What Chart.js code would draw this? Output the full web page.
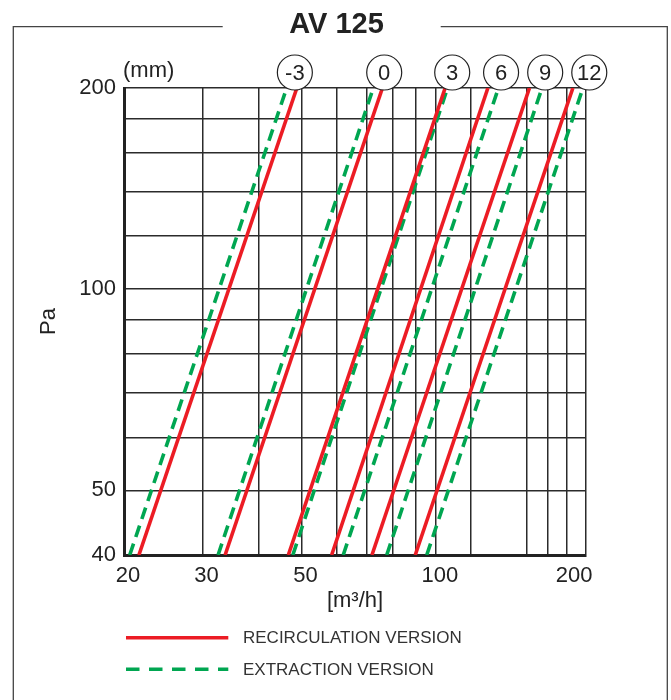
<!DOCTYPE html>
<html>
<head>
<meta charset="utf-8">
<title>AV 125</title>
<script src="https://cdn.jsdelivr.net/npm/chart.js@4.4.1/dist/chart.umd.min.js"></script>
<style>
  html, body { margin: 0; padding: 0; background: #fff; }
  #wrap { width: 671px; height: 700px; }
</style>
</head>
<body>
<div id="wrap"><canvas id="chart" width="671" height="700"></canvas></div>
<script>
// réglage de la bouche (mm)
const openings = ['-3', '0', '3', '6', '9', '12']
// pression aux deux bouts de chaque droite (Pa)
const pressureEnds = [40, 200]
// débits (m3/h) à 40 Pa et à 200 Pa
const recircAt40 = [21.6, 33.7, 46.7, 58.4, 71.9, 89.9]
const recircAt200 = [48.8, 75.9, 104.9, 130.8, 162.1, 202.8]
const extractAt40 = [20.6, 32.5, 47.8, 62.0, 77.6, 95.4]
const extractAt200 = [46.3, 72.4, 106.2, 138.1, 172.9, 213.6]
// débit où se trouve l'étiquette ronde de chaque réglage
const openingLabelAt = [48.3, 76.6, 108.8, 140, 175.8, 220.7]

// axes
const xGridValues = [20, 30, 40, 50, 60, 70, 80, 90, 100, 120, 160, 178, 196, 217]
const xTickLabels = [20, 30, 50, 100, 200]
const yGridValues = [40, 50, 60, 70, 80, 90, 100, 120, 140, 160, 180, 200]
const yTickLabels = [40, 50, 100, 200]

const chartTitle = 'AV 125'
const legendNames = ['RECIRCULATION VERSION', 'EXTRACTION VERSION']

const RED = '#ec1c24'
const GREEN = '#00a651'
const INK = '#222'
const GRID = '#2b2b2b'
const FONT = "'Liberation Sans', Arial, sans-serif"

Chart.defaults.font.family = FONT
Chart.defaults.color = INK

const datasets = []
openings.forEach((op, i) => {
  datasets.push({
    label: legendNames[0] + ' ' + op,
    data: [{ x: recircAt40[i], y: pressureEnds[0] }, { x: recircAt200[i], y: pressureEnds[1] }],
    borderColor: RED,
    borderWidth: 3.6,
    pointRadius: 0,
    showLine: true,
    order: 0
  })
  datasets.push({
    label: legendNames[1] + ' ' + op,
    data: [{ x: extractAt40[i], y: pressureEnds[0] }, { x: extractAt200[i], y: pressureEnds[1] }],
    borderColor: GREEN,
    borderWidth: 3.6,
    borderDash: [12, 7],
    pointRadius: 0,
    showLine: true,
    order: 1
  })
})

const xTickValues = [...new Set([...xGridValues, ...xTickLabels])].sort((a, b) => a - b)

// cadre, titre, étiquettes rondes et légende
const decor = {
  id: 'decor',
  beforeDraw(chart) {
    const ctx = chart.ctx
    ctx.save()
    ctx.fillStyle = '#fff'
    ctx.fillRect(0, 0, chart.width, chart.height)
    ctx.strokeStyle = '#444'
    ctx.lineWidth = 1.3
    ctx.beginPath()
    ctx.moveTo(222.7, 26.7); ctx.lineTo(13.3, 26.7); ctx.lineTo(13.3, 700)
    ctx.moveTo(440.7, 26.7); ctx.lineTo(667.3, 26.7); ctx.lineTo(667.3, 700)
    ctx.stroke()
    ctx.fillStyle = INK
    ctx.font = 'bold 29px ' + FONT
    ctx.textAlign = 'center'
    ctx.textBaseline = 'alphabetic'
    ctx.fillText(chartTitle, 336.5, 32.5)
    ctx.restore()
  },
  afterDatasetsDraw(chart) {
    const { ctx, chartArea } = chart
    const xs = chart.scales.x
    ctx.save()
    // (mm)
    ctx.fillStyle = INK
    ctx.font = '22px ' + FONT
    ctx.textAlign = 'left'
    ctx.textBaseline = 'middle'
    ctx.fillText('(mm)', chartArea.left - 1, chartArea.top - 17)
    // étiquettes rondes
    openings.forEach((op, i) => {
      const cx = xs.getPixelForValue(openingLabelAt[i])
      const cy = chartArea.top - 15.5
      ctx.beginPath()
      ctx.arc(cx, cy, 17.5, 0, Math.PI * 2)
      ctx.fillStyle = '#fff'
      ctx.fill()
      ctx.strokeStyle = INK
      ctx.lineWidth = 1.2
      ctx.stroke()
      ctx.fillStyle = INK
      ctx.textAlign = 'center'
      ctx.fillText(op, cx, cy + 1)
    })
    // légende
    const items = [
      { color: RED, dash: [], y: 637.7 },
      { color: GREEN, dash: [13.5, 9.5], y: 669.3 }
    ]
    items.forEach((it, i) => {
      ctx.beginPath()
      ctx.setLineDash(it.dash)
      ctx.strokeStyle = it.color
      ctx.lineWidth = 3.5
      ctx.moveTo(126, it.y)
      ctx.lineTo(228.3, it.y)
      ctx.stroke()
      ctx.setLineDash([])
      ctx.fillStyle = '#333'
      ctx.font = '17px ' + FONT
      ctx.textAlign = 'left'
      ctx.textBaseline = 'middle'
      ctx.fillText(legendNames[i], 243, it.y + 1)
    })
    ctx.restore()
  }
}

new Chart(document.getElementById('chart'), {
  type: 'scatter',
  data: { datasets },
  plugins: [decor],
  options: {
    responsive: false,
    animation: false,
    layout: { padding: { left: 0, top: 88, right: 85, bottom: 85 } },
    plugins: {
      legend: { display: false },
      title: { display: false },
      tooltip: { enabled: false }
    },
    scales: {
      x: {
        type: 'logarithmic',
        min: 20,
        max: 217,
        afterBuildTicks: s => { s.ticks = xTickValues.map(v => ({ value: v })) },
        afterFit: s => { s.height = 60 },
        ticks: {
          autoSkip: false,
          maxRotation: 0,
          padding: 8,
          labelOffset: 4,
          font: { size: 22 },
          color: INK,
          callback: v => xTickLabels.includes(v) ? String(v) : ''
        },
        grid: {
          drawTicks: false,
          lineWidth: 1.5,
          color: c => xGridValues.includes(c.tick && c.tick.value) ? GRID : 'rgba(0,0,0,0)'
        },
        border: { color: INK, width: 3 },
        title: {
          display: true,
          text: '[m³/h]',
          font: { size: 22 },
          color: INK,
          padding: { top: 0, bottom: 1 }
        }
      },
      y: {
        type: 'logarithmic',
        min: 40,
        max: 200,
        afterBuildTicks: s => { s.ticks = yGridValues.map(v => ({ value: v })) },
        afterFit: s => { s.width = 124 },
        ticks: {
          autoSkip: false,
          padding: 8,
          font: { size: 22 },
          color: INK,
          callback: v => yTickLabels.includes(v) ? String(v) : ''
        },
        grid: {
          drawTicks: false,
          lineWidth: 1.5,
          color: GRID
        },
        border: { color: INK, width: 3 },
        title: {
          display: true,
          text: 'Pa',
          font: { size: 22 },
          color: INK,
          padding: { top: 36, bottom: 0 }
        }
      }
    }
  }
})
</script>
</body>
</html>
